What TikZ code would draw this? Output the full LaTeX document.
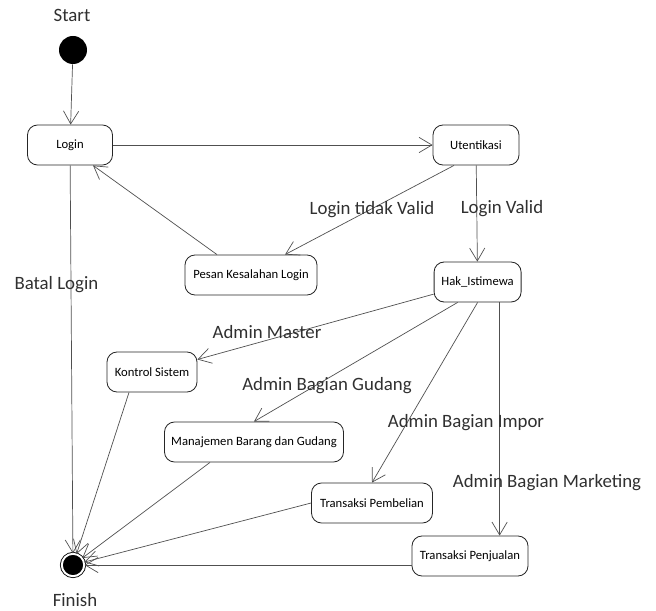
\documentclass[tikz,border=0pt]{standalone}
\usepackage{fontspec}
\setmainfont{Carlito}
\usetikzlibrary{arrows.meta, positioning}
\definecolor{linecolor}{HTML}{505050}
\definecolor{labelcolor}{HTML}{303030}

\begin{document}
\begin{tikzpicture}[
    every node/.style={align=center},
    state/.style={draw=black!85, rounded corners=0.25cm, line width=0.6pt,
                  minimum height=1cm, font=\fontsize{9}{11}\selectfont},
    startpt/.style={circle, fill=black, inner sep=0pt, minimum size=0.7cm},
    endpt/.style={circle, fill=black, draw=black, line width=0.6pt,
                  double=white, double distance=1.4pt,
                  minimum size=0.56cm, inner sep=0pt},
    lbl/.style={font=\fontsize{13.4}{16}\selectfont, text=labelcolor},
    arr/.style={-{Straight Barb[length=3.2mm, width=3.8mm]}, draw=linecolor,
                line width=0.5pt}
]
    \useasboundingbox (0,0) rectangle (16.4,-15.275);

    % Start / Finish
    \node[lbl] (startlbl) at (1.8,-0.375) {Start};
    \node[startpt] (start) at (1.825,-1.25) {};
    \node[endpt] (fin) at (1.825,-14.125) {};
    \node[lbl] (finlbl) at (1.875,-15) {Finish};

    % Row 1: login
    \node[state, minimum width=2.125cm] (login) at (1.75,-3.625) {Login};
    \node[state, minimum width=2.15cm] (ute) at (11.9,-3.625) {Utentikasi};

    % Row 2
    \node[state, minimum width=3.3cm] (pesan) at (6.275,-6.875) {Pesan Kesalahan Login};
    \node[state, minimum width=2.175cm] (hak) at (11.94,-7.05) {Hak\_Istimewa};

    % Menu states
    \node[state, minimum width=2.25cm] (kontrol) at (3.8,-9.3) {Kontrol Sistem};
    \node[state, minimum width=4.475cm] (mbg) at (6.35,-11.05) {Manajemen Barang dan Gudang};
    \node[state, minimum width=3.025cm] (tpb) at (9.3,-12.575) {Transaksi Pembelian};
    \node[state, minimum width=2.9cm] (tpj) at (11.75,-13.9) {Transaksi Penjualan};

    % Arrows - login
    \draw[arr] (start) -- (login);
    \draw[arr] (login) -- (ute);
    \draw[arr] ([xshift=-0.55cm]ute.south) -- ([xshift=0.85cm]pesan.north);
    \draw[arr] ([xshift=-0.85cm]pesan.north) -- ([xshift=0.575cm]login.south);
    \draw[arr] (ute) -- (hak);
    \draw[arr] (login) -- (fin);

    % Arrows - hak istimewa
    \draw[arr] (hak) -- (kontrol);
    \draw[arr] ([xshift=-0.5cm]hak.south) -- (mbg.north);
    \draw[arr] (hak.south) -- (tpb.north);
    \draw[arr] ([xshift=0.55cm]hak.south) -- ([xshift=0.55cm]hak.south |- tpj.north);

    % Arrows - to finish
    \draw[arr] ([xshift=-0.575cm]kontrol.south) -- (fin);
    \draw[arr] ([xshift=-1.1cm]mbg.south) -- (fin);
    \draw[arr] (tpb.west) -- (fin);
    \draw[arr] (tpj.west |- fin) -- (fin);

    % Labels
    \node[lbl] (lblbatal) at (1.41,-7.125) {Batal Login};
    \node[lbl] (lbltidak) at (9.3,-5.25) {Login tidak Valid};
    \node[lbl] (lblvalid) at (12.55,-5.225) {Login Valid};
    \node[lbl] (lblmaster) at (6.675,-8.3) {Admin Master};
    \node[lbl] (lblgudang) at (8.175,-9.65) {Admin Bagian Gudang};
    \node[lbl] (lblimpor) at (11.65,-10.575) {Admin Bagian Impor};
    \node[lbl] (lblmarket) at (13.675,-12.075) {Admin Bagian Marketing};
\end{tikzpicture}
\end{document}
